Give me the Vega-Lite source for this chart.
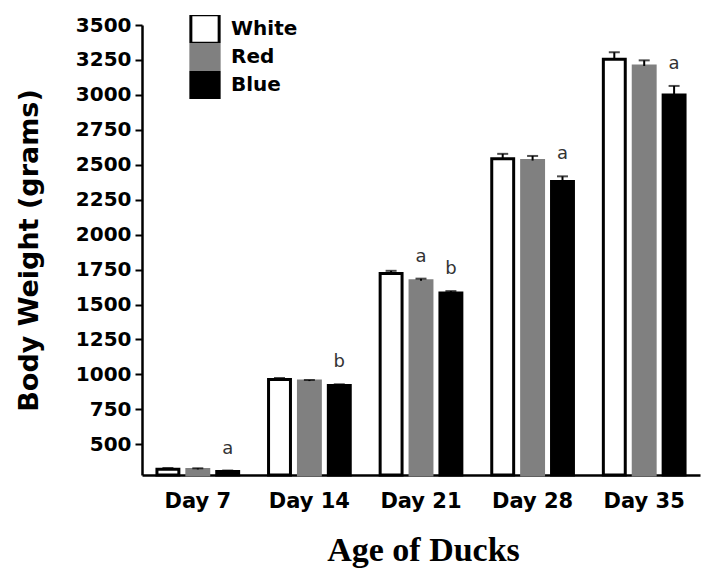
{
  "$schema": "https://vega.github.io/schema/vega-lite/v6.json",
  "width": 558,
  "height": 450,
  "autosize": {"type": "none"},
  "padding": {"left": 142, "top": 25, "right": 1, "bottom": 93},
  "background": "white",
  "config": {"view": {"stroke": null}, "font": "DejaVu Sans"},
  "data": {
    "values": [
      {"day": "Day 7", "group": "White", "weight": 322, "upper": 330, "label": ""},
      {"day": "Day 7", "group": "Red", "weight": 320, "upper": 328, "label": ""},
      {"day": "Day 7", "group": "Blue", "weight": 305, "upper": 312, "label": "a"},
      {"day": "Day 14", "group": "White", "weight": 964, "upper": 974, "label": ""},
      {"day": "Day 14", "group": "Red", "weight": 952, "upper": 960, "label": ""},
      {"day": "Day 14", "group": "Blue", "weight": 921, "upper": 929, "label": "b"},
      {"day": "Day 21", "group": "White", "weight": 1721, "upper": 1741, "label": ""},
      {"day": "Day 21", "group": "Red", "weight": 1670, "upper": 1685, "label": "a"},
      {"day": "Day 21", "group": "Blue", "weight": 1583, "upper": 1596, "label": "b"},
      {"day": "Day 28", "group": "White", "weight": 2543, "upper": 2578, "label": ""},
      {"day": "Day 28", "group": "Red", "weight": 2530, "upper": 2563, "label": ""},
      {"day": "Day 28", "group": "Blue", "weight": 2381, "upper": 2417, "label": "a"},
      {"day": "Day 35", "group": "White", "weight": 3255, "upper": 3305, "label": ""},
      {"day": "Day 35", "group": "Red", "weight": 3207, "upper": 3247, "label": ""},
      {"day": "Day 35", "group": "Blue", "weight": 3000, "upper": 3064, "label": "a"}
    ]
  },
  "encoding": {
    "x": {
      "field": "day",
      "type": "nominal",
      "sort": ["Day 7", "Day 14", "Day 21", "Day 28", "Day 35"],
      "scale": {"paddingInner": 0, "paddingOuter": 0},
      "axis": {
        "labelAngle": 0,
        "ticks": false,
        "labelPadding": 15,
        "labelFont": "DejaVu Sans",
        "labelFontSize": 21,
        "labelFontWeight": "bold",
        "labelColor": "black",
        "domainColor": "black",
        "domainWidth": 2.5,
        "title": "Age of Ducks",
        "titleFont": "Liberation Serif",
        "titleFontSize": 34,
        "titleFontWeight": "bold",
        "titleColor": "black",
        "titleX": 281,
        "titleY": 85,
        "titleBaseline": "alphabetic",
        "titleAlign": "center"
      }
    },
    "xOffset": {
      "field": "group",
      "type": "nominal",
      "sort": ["White", "Red", "Blue"],
      "scale": {"paddingInner": 0.267, "paddingOuter": 0.5}
    },
    "y": {
      "field": "weight",
      "type": "quantitative",
      "scale": {"domain": [280, 3500], "nice": false, "zero": false},
      "axis": {
        "values": [500, 750, 1000, 1250, 1500, 1750, 2000, 2250, 2500, 2750, 3000, 3250, 3500],
        "format": "d",
        "labelOverlap": false,
        "grid": false,
        "labelFont": "DejaVu Sans",
        "labelFontSize": 20,
        "labelFontWeight": "bold",
        "labelColor": "black",
        "labelPadding": 4,
        "tickSize": 7,
        "tickWidth": 2,
        "tickColor": "black",
        "domainColor": "black",
        "domainWidth": 2.5,
        "title": "Body Weight (grams)",
        "titleFont": "DejaVu Sans",
        "titleFontSize": 27,
        "titleFontWeight": "bold",
        "titleColor": "black",
        "titleAngle": -90,
        "titleX": -105,
        "titleY": 225,
        "titleBaseline": "alphabetic",
        "titleAlign": "center"
      }
    }
  },
  "layer": [
    {
      "mark": {"type": "bar", "strokeWidth": 3},
      "encoding": {
        "y2": {"datum": 280},
        "color": {
          "field": "group",
          "type": "nominal",
          "scale": {"domain": ["White", "Red", "Blue"], "range": ["#ffffff", "#808080", "#000000"]},
          "legend": {
            "orient": "none",
            "legendX": 47,
            "legendY": -10,
            "title": null,
            "symbolType": "square",
            "symbolSize": 800,
            "symbolStrokeWidth": 3,
            "labelFont": "DejaVu Sans",
            "labelFontSize": 20,
            "labelFontWeight": "bold",
            "labelColor": "black",
            "labelOffset": 10,
            "rowPadding": 0,
            "clipHeight": 28
          }
        },
        "stroke": {
          "field": "group",
          "type": "nominal",
          "scale": {"domain": ["White", "Red", "Blue"], "range": ["#000000", "#808080", "#000000"]},
          "legend": {
            "orient": "none",
            "legendX": 47,
            "legendY": -10,
            "title": null,
            "symbolType": "square",
            "symbolSize": 800,
            "symbolStrokeWidth": 3,
            "labelFont": "DejaVu Sans",
            "labelFontSize": 20,
            "labelFontWeight": "bold",
            "labelColor": "black",
            "labelOffset": 10,
            "rowPadding": 0,
            "clipHeight": 28
          }
        }
      }
    },
    {
      "mark": {"type": "rule", "color": "black", "strokeWidth": 2},
      "encoding": {
        "y2": {"field": "upper"}
      }
    },
    {
      "mark": {"type": "tick", "color": "black", "thickness": 2, "size": 11, "yOffset": {"expr": "scale('y', datum.upper) - scale('y', datum.weight)"}},
      "encoding": {}
    },
    {
      "mark": {"type": "text", "fontSize": 18, "color": "#333333", "font": "DejaVu Sans", "baseline": "middle", "yOffset": {"expr": "scale('y', datum.upper) - scale('y', datum.weight) - 22"}},
      "encoding": {
        "text": {"field": "label"}
      }
    }
  ]
}
